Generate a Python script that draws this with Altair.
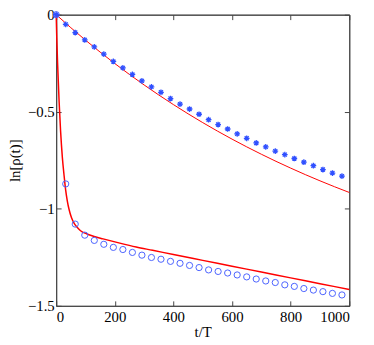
import altair as alt
import pandas as pd

# sample times t/T of the markers
t_pts = [0, 32.5, 65, 97.5, 130, 162.5, 195, 227.5, 260, 292.5, 325, 357.5, 390, 422.5,
         455, 487.5, 520, 552.5, 585, 617.5, 650, 682.5, 715, 747.5, 780, 812.5, 845,
         877.5, 910, 942.5, 975]
stars = [0, -0.050, -0.092, -0.130, -0.166, -0.203, -0.241, -0.274, -0.308, -0.341, -0.372,
         -0.400, -0.432, -0.461, -0.486, -0.513, -0.541, -0.566, -0.589, -0.614, -0.637,
         -0.661, -0.681, -0.703, -0.721, -0.741, -0.760, -0.778, -0.798, -0.816, -0.832]
circles = [0, -0.872, -1.079, -1.136, -1.163, -1.183, -1.199, -1.210, -1.225, -1.239, -1.251,
           -1.260, -1.271, -1.281, -1.292, -1.303, -1.315, -1.323, -1.331, -1.341, -1.351,
           -1.362, -1.372, -1.380, -1.392, -1.400, -1.411, -1.419, -1.427, -1.436, -1.444]

# upper red curve
t_up = [0, 50, 100, 150, 200, 250, 300, 350, 400, 450, 500, 550, 600, 650, 700, 750, 800,
        850, 900, 950, 1000]
up = [0, -0.0671, -0.1313, -0.1928, -0.2517, -0.3081, -0.3621, -0.4138, -0.4633, -0.5107,
      -0.5561, -0.5996, -0.6412, -0.6810, -0.7191, -0.7556, -0.7905, -0.8240, -0.8560,
      -0.8867, -0.9160]

# lower red curve
t_lo = [0, 2, 5, 10, 15, 21, 27, 32, 38, 44, 52, 60, 70, 83, 105, 130, 160, 217, 273, 329,
        400, 500, 600, 700, 800, 900, 1000]
lo = [0, -0.12, -0.26, -0.449, -0.60, -0.735, -0.83, -0.90, -0.96, -1.004, -1.045, -1.071,
      -1.093, -1.113, -1.130, -1.143, -1.155, -1.177, -1.197, -1.214, -1.236, -1.266,
      -1.296, -1.326, -1.356, -1.386, -1.416]

x_ticks = [0, 200, 400, 600, 800, 1000]
y_ticks = [0, -0.5, -1, -1.5]

FONT = "Liberation Serif, Times New Roman, DejaVu Serif, serif"
AX = "#444444"

df_pts = pd.DataFrame({"t": t_pts, "star": stars, "circ": circles})
df_up = pd.DataFrame({"t": t_up, "v": up})
df_lo = pd.DataFrame({"t": t_lo, "v": lo})

xs = alt.Scale(domain=[0, 1000], nice=False, zero=False)
ys = alt.Scale(domain=[-1.5, 0], nice=False, zero=False)

common = dict(grid=False, domainColor=AX, tickColor=AX, tickSize={"expr": "-5"},
              labelFont=FONT, labelFontSize=15, labelColor="black",
              titleFont=FONT, titleFontSize=15, titleColor="black", titleFontWeight="normal")

x_main = alt.Axis(orient="bottom", values=x_ticks, title="t/T", format="d",
                  labelPadding=8.5, titlePadding=1, **common)
y_main = alt.Axis(orient="left", values=y_ticks, title="ln[ρ(t)]", format="~g",
                  labelPadding=7, titlePadding=5, **common)
x_top = alt.Axis(orient="top", values=x_ticks, title=None, labels=False, **common)
y_right = alt.Axis(orient="right", values=y_ticks, title=None, labels=False, **common)

line_up = alt.Chart(df_up).mark_line(color="#ff0000", strokeWidth=1).encode(
    x=alt.X("t:Q", scale=xs, axis=x_main),
    y=alt.Y("v:Q", scale=ys, axis=y_main),
)
line_lo = alt.Chart(df_lo).mark_line(color="#ff0000", strokeWidth=1.5, interpolate="monotone").encode(
    x=alt.X("t:Q", scale=xs, axis=x_top),
    y=alt.Y("v:Q", scale=ys, axis=y_right),
)
star_pts = alt.Chart(df_pts).mark_point(
    shape="M-1,0L1,0M0,-1L0,1M-0.7,-0.7L0.7,0.7M-0.7,0.7L0.7,-0.7",
    filled=False, color="#3050ff", size=34, strokeWidth=1.3, opacity=1,
).encode(
    x=alt.X("t:Q", scale=xs, axis=None),
    y=alt.Y("star:Q", scale=ys, axis=None),
)
circ_pts = alt.Chart(df_pts).mark_point(
    shape="circle", filled=False, color="#4a62ff", size=40, strokeWidth=1, opacity=1,
).encode(
    x=alt.X("t:Q", scale=xs, axis=None),
    y=alt.Y("circ:Q", scale=ys, axis=None),
)

chart = alt.layer(line_up, line_lo, star_pts, circ_pts).resolve_axis(
    x="independent", y="independent"
).properties(
    width=298, height=296,
    autosize=alt.AutoSizeParams(type="none"),
    padding={"left": 49, "top": 4, "right": 17, "bottom": 34},
    background="white",
).configure_view(stroke=AX, strokeWidth=1)

chart.save("out.html", embed_options={"renderer": "svg", "actions": False})
